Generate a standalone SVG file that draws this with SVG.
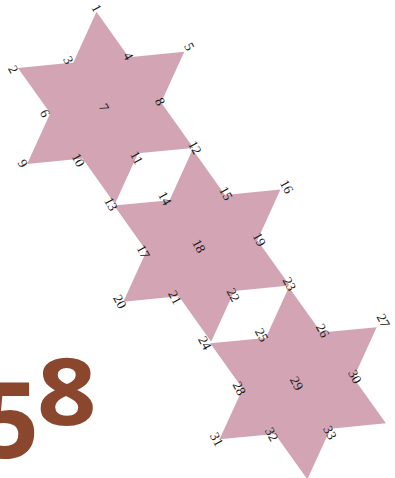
<svg xmlns="http://www.w3.org/2000/svg" xmlns:xlink="http://www.w3.org/1999/xlink" width="395" height="478" viewBox="0 0 395 478">
<style>
.star{fill:#d3a5b4;stroke:none}
.lbl{font-family:"Liberation Serif","DejaVu Serif",serif;font-size:13.5px;fill:#1a1a1a;text-anchor:middle;dominant-baseline:central}
.big{font-family:"Open Sans","Noto Sans",sans-serif;font-weight:700;fill:#8b472d}
</style>
<defs>
<polygon id="hexagram" class="star" points="-9.25,-96.06 23.10,-50.70 78.56,-56.04 55.45,-5.34 87.82,40.02 32.35,45.35 9.25,96.06 -23.10,50.70 -78.56,56.04 -55.45,5.34 -87.82,-40.02 -32.35,-45.35"/>
</defs>
<rect width="395" height="478" fill="#ffffff"/>
<g id="connectors"></g>
<g id="star1"><use xlink:href="#hexagram" href="#hexagram" x="105.7" y="107.9"/></g>
<g id="star2"><use xlink:href="#hexagram" href="#hexagram" x="201.9" y="245.6"/></g>
<g id="star3"><use xlink:href="#hexagram" href="#hexagram" x="298.1" y="383.3"/></g>
<g id="labels">
<text class="lbl" x="96.5" y="8" transform="rotate(62 96.5 8)">1</text>
<text class="lbl" x="13.3" y="69.3" transform="rotate(62 13.3 69.3)">2</text>
<text class="lbl" x="68.3" y="60" transform="rotate(62 68.3 60)">3</text>
<text class="lbl" x="128.3" y="56" transform="rotate(62 128.3 56)">4</text>
<text class="lbl" x="189.3" y="46.7" transform="rotate(62 189.3 46.7)">5</text>
<text class="lbl" x="45" y="113.3" transform="rotate(62 45 113.3)">6</text>
<text class="lbl" x="104" y="107.3" transform="rotate(62 104 107.3)">7</text>
<text class="lbl" x="160" y="101.7" transform="rotate(62 160 101.7)">8</text>
<text class="lbl" x="22.7" y="163.3" transform="rotate(62 22.7 163.3)">9</text>
<text class="lbl" x="78.3" y="160" transform="rotate(62 78.3 160)">10</text>
<text class="lbl" x="136.7" y="157.7" transform="rotate(62 136.7 157.7)">11</text>
<text class="lbl" x="195" y="147.5" transform="rotate(62 195 147.5)">12</text>
<text class="lbl" x="111" y="204" transform="rotate(62 111 204)">13</text>
<text class="lbl" x="165" y="198.3" transform="rotate(62 165 198.3)">14</text>
<text class="lbl" x="226" y="193.3" transform="rotate(62 226 193.3)">15</text>
<text class="lbl" x="286.7" y="186.7" transform="rotate(62 286.7 186.7)">16</text>
<text class="lbl" x="143.3" y="251.7" transform="rotate(62 143.3 251.7)">17</text>
<text class="lbl" x="199" y="246" transform="rotate(62 199 246)">18</text>
<text class="lbl" x="259.3" y="239.3" transform="rotate(62 259.3 239.3)">19</text>
<text class="lbl" x="120" y="301.7" transform="rotate(62 120 301.7)">20</text>
<text class="lbl" x="175" y="297.3" transform="rotate(62 175 297.3)">21</text>
<text class="lbl" x="233.3" y="295" transform="rotate(62 233.3 295)">22</text>
<text class="lbl" x="289.5" y="284" transform="rotate(62 289.5 284)">23</text>
<text class="lbl" x="205" y="343" transform="rotate(62 205 343)">24</text>
<text class="lbl" x="261.7" y="335" transform="rotate(62 261.7 335)">25</text>
<text class="lbl" x="322.7" y="330.7" transform="rotate(62 322.7 330.7)">26</text>
<text class="lbl" x="383.3" y="320.7" transform="rotate(62 383.3 320.7)">27</text>
<text class="lbl" x="239.3" y="388.3" transform="rotate(62 239.3 388.3)">28</text>
<text class="lbl" x="296.7" y="383.3" transform="rotate(62 296.7 383.3)">29</text>
<text class="lbl" x="355" y="376.7" transform="rotate(62 355 376.7)">30</text>
<text class="lbl" x="216.7" y="439.3" transform="rotate(62 216.7 439.3)">31</text>
<text class="lbl" x="271.7" y="434.3" transform="rotate(62 271.7 434.3)">32</text>
<text class="lbl" x="330" y="432.7" transform="rotate(62 330 432.7)">33</text>
</g>
<g id="title">
<text class="big" x="-21" y="458" font-size="105">5</text>
<text class="big" font-size="93" transform="translate(37 425) scale(1.12 1)">8</text>
</g>
</svg>
